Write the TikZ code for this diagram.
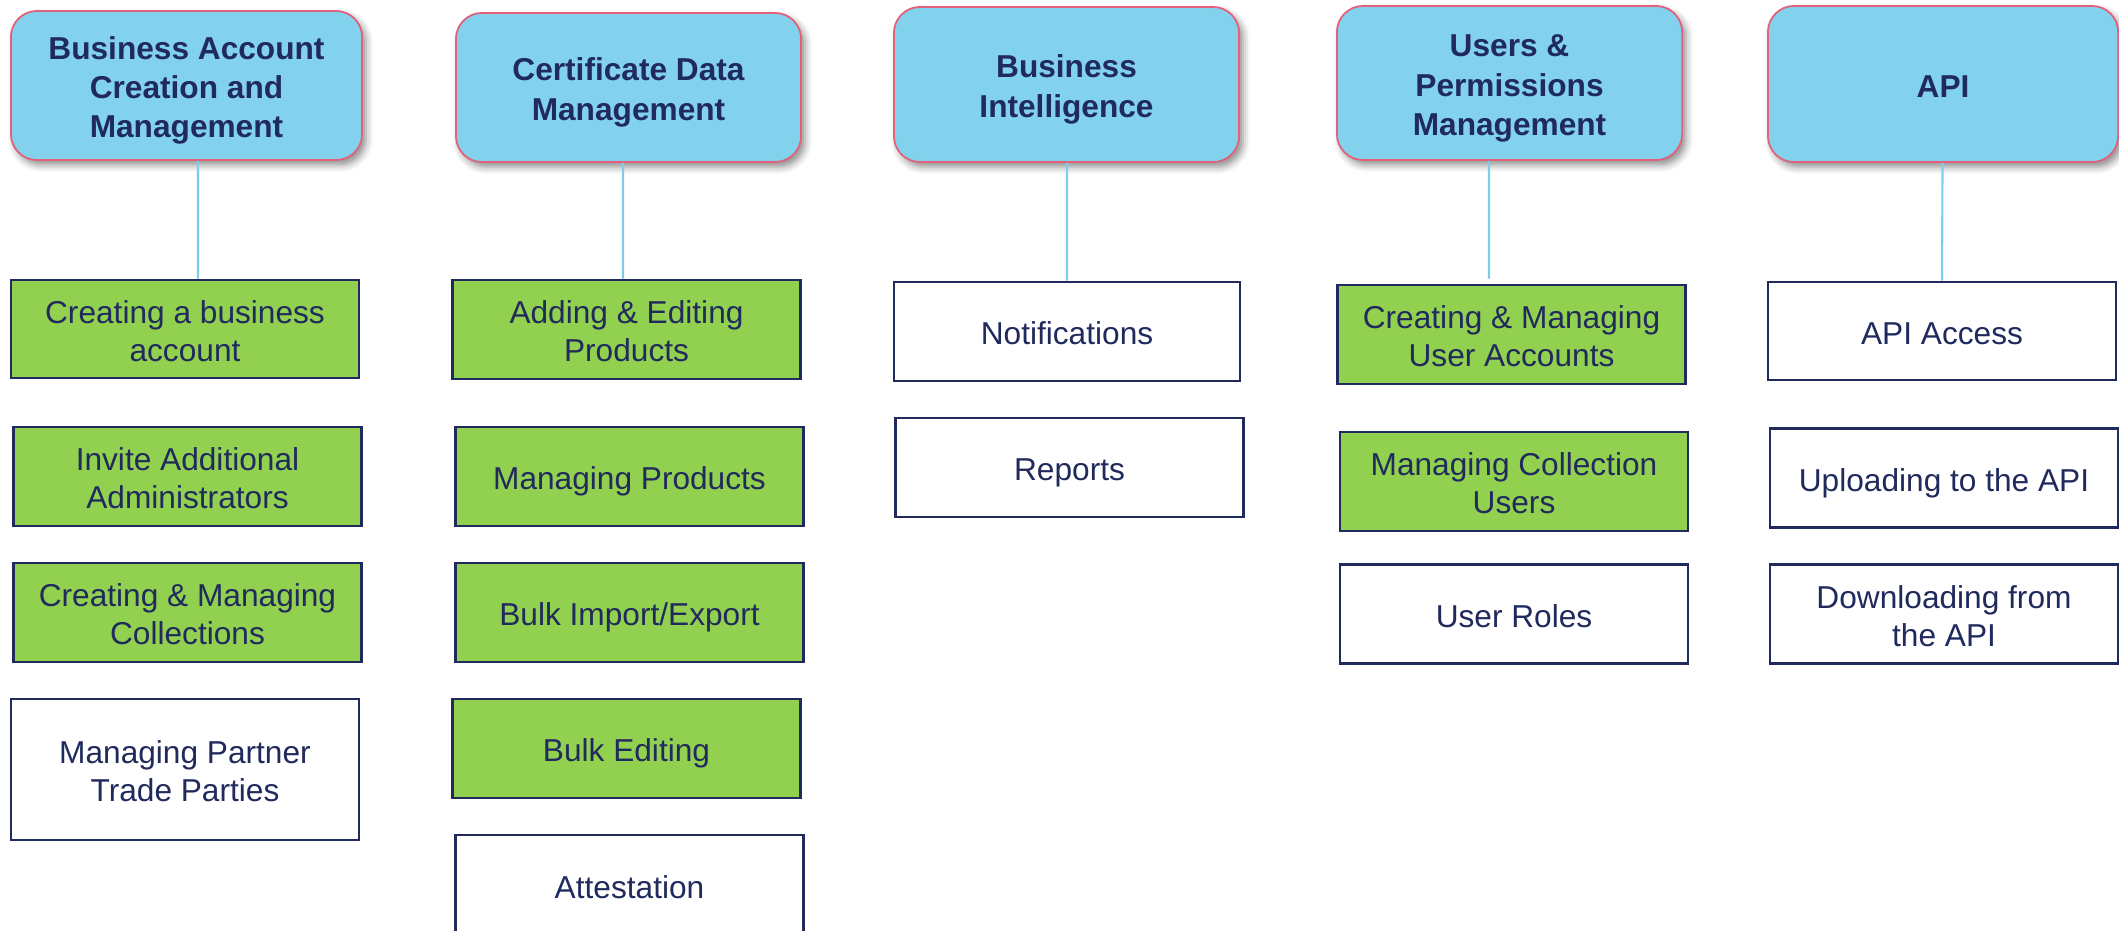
\documentclass[tikz,border=0pt]{standalone}
\usepackage{fontspec}
\setmainfont{Liberation Sans}
\usetikzlibrary{shadows.blur}
\definecolor{hdrfill}{RGB}{130,210,238}
\definecolor{hdrline}{RGB}{226,96,122}
\definecolor{navy}{RGB}{32,42,92}
\definecolor{gfill}{RGB}{146,208,80}
\definecolor{conn}{RGB}{125,205,235}
\newcommand\mystrut{\rule{0pt}{9.3pt}}
\tikzset{
  struts/.style={execute at end node={\rule[-1.9pt]{0pt}{1.9pt}}},
  hdr/.style={draw=hdrline, line width=0.5pt, fill=hdrfill, rounded corners=0.26cm,
    inner sep=0pt, align=center, text=navy, font=\fontsize{9}{11.1}\selectfont\bfseries, struts,
    blur shadow={shadow xshift=0.04cm, shadow yshift=-0.05cm, shadow blur radius=0.07cm, shadow opacity=45}},
  itembox/.style={draw=navy, line width=0.75pt, inner sep=0pt, align=center, text=navy,
    font=\fontsize{9}{10.8}\selectfont, struts, minimum width=3.48cm, minimum height=0.99cm},
  gbox/.style={itembox, fill=gfill},
  wbox/.style={itembox, fill=white},
  link/.style={draw=conn, line width=0.6pt}
}
\begin{document}
\begin{tikzpicture}[x=0.01cm, y=-0.01cm]
\useasboundingbox (0,0) rectangle (2119,930);
\clip (0,0) rectangle (2119,930);
% headers
\node[hdr, minimum width=3.51cm, minimum height=1.49cm] (h1) at (186.5,85.5) {\mystrut Business Account\\Creation and\\Management};
\node[hdr, minimum width=3.45cm, minimum height=1.49cm] (h2) at (628.5,87.5) {\mystrut Certificate Data\\Management};
\node[hdr, minimum width=3.45cm, minimum height=1.55cm] (h3) at (1066.5,84.5) {\mystrut Business\\Intelligence};
\node[hdr, minimum width=3.45cm, minimum height=1.54cm] (h4) at (1509.5,83) {\mystrut Users \&\\Permissions\\Management};
\node[hdr, minimum width=3.50cm, minimum height=1.56cm] (h5) at (1943,84) {\mystrut API};
% column 1
\node[gbox, minimum height=0.98cm] (b11) at (185,329) {\mystrut Creating a business\\account};
\node[gbox] (b12) at (187.5,476.5) {\mystrut Invite Additional\\Administrators};
\node[gbox] (b13) at (187.5,612.5) {\mystrut Creating \& Managing\\Collections};
\node[wbox, minimum height=1.41cm] (b14) at (185,769.5) {\mystrut Managing Partner\\Trade Parties};
% column 2
\node[gbox] (b21) at (626.5,329.5) {\mystrut Adding \& Editing\\Products};
\node[gbox] (b22) at (629.5,476.5) {\mystrut Managing Products};
\node[gbox] (b23) at (629.5,612.5) {\mystrut Bulk Import/Export};
\node[gbox] (b24) at (626.5,748.5) {\mystrut Bulk Editing};
\node[wbox, minimum height=1.0cm] (b25) at (629.5,885) {\mystrut Attestation};
% column 3
\node[wbox, minimum width=3.46cm] (b31) at (1067,331.5) {\mystrut Notifications};
\node[wbox] (b32) at (1069.5,467.5) {\mystrut Reports};
% column 4
\node[gbox] (b41) at (1511.5,334.5) {\mystrut Creating \& Managing\\User Accounts};
\node[gbox] (b42) at (1514,481.5) {\mystrut Managing Collection\\Users};
\node[wbox] (b43) at (1514,614) {\mystrut User Roles};
% column 5
\node[wbox, minimum height=0.98cm] (b51) at (1942,331) {\mystrut API Access};
\node[wbox] (b52) at (1944,478) {\mystrut Uploading to the API};
\node[wbox] (b53) at (1944,614) {\mystrut Downloading from\\the API};
% connectors
\draw[link] ([xshift=0.115cm]h1.south) -- ([xshift=0.13cm]b11.north);
\draw[link] ([xshift=-0.055cm]h2.south) -- ([xshift=-0.035cm]b21.north);
\draw[link] ([xshift=0.005cm]h3.south) -- (b31.north);
\draw[link] ([xshift=-0.205cm]h4.south) -- ([xshift=-0.225cm,yshift=0.05cm]b41.north);
\draw[link] ([xshift=-0.005cm]h5.south) -- ([xshift=0cm]b51.north);
\end{tikzpicture}
\end{document}
